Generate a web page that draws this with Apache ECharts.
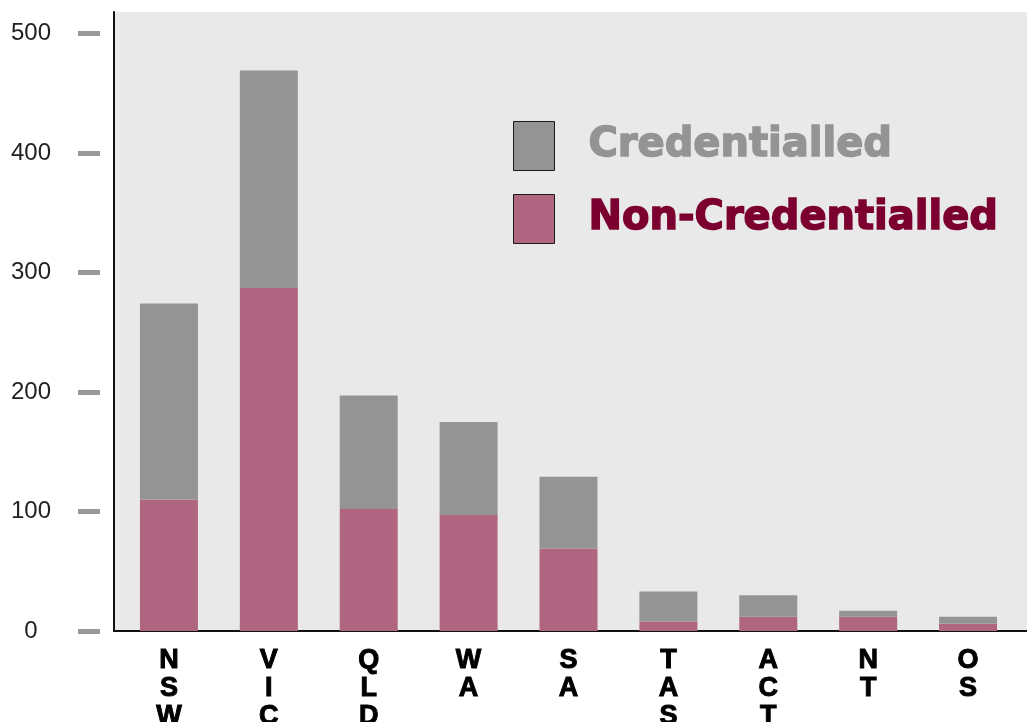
<!DOCTYPE html>
<html><head><meta charset="utf-8">
<script src="https://cdn.jsdelivr.net/npm/echarts@6/dist/echarts.min.js"></script>
<style>html,body{margin:0;padding:0;background:#fff}#c{width:1027px;height:722px}</style>
</head><body><div id="c"></div>
<script>
const categories = ['NSW','VIC','QLD','WA','SA','TAS','ACT','NT','OS'];
const nonCredentialled = [110, 287, 102, 97, 69, 8, 12, 12, 6];
const credentialled = [164, 182, 95, 78, 60, 25, 18, 5, 6];
const yTicks = [0, 100, 200, 300, 400, 500];
const yMax = 518;

const chart = echarts.init(document.getElementById('c'));
chart.setOption({
  animation: false,
  backgroundColor: '#ffffff',
  grid: [
    {left: 114, right: 0, top: 12, bottom: 91, show: true, backgroundColor: '#e9e9e9', borderWidth: 0, outerBoundsMode: 'none', containLabel: false},
    {left: 119, right: 9, top: 12, bottom: 91, show: false, outerBoundsMode: 'none', containLabel: false}
  ],
  legend: {
    orient: 'vertical', left: 513, top: 121, padding: 0,
    itemWidth: 41, itemHeight: 49, itemGap: 23,
    icon: 'rect',
    itemStyle: {borderColor: '#1a1a1a', borderWidth: 1},
    textStyle: {fontFamily: 'DejaVu Sans', fontWeight: 'bold', fontSize: 40, padding: [4, 0, 0, 29]},
    data: [
      {name: 'Credentialled', textStyle: {color: '#949494', textBorderColor: '#949494', textBorderWidth: 1.5}},
      {name: 'Non-Credentialled', textStyle: {color: '#7b002f', textBorderColor: '#7b002f', textBorderWidth: 1.5}}
    ]
  },
  xAxis: [
    {type: 'category', gridIndex: 0, data: categories,
     axisLine: {show: true, lineStyle: {color: '#111', width: 2}},
     axisTick: {show: false}, axisLabel: {show: false}, splitLine: {show: false}},
    {type: 'category', gridIndex: 1, data: categories,
     axisLine: {show: false}, axisTick: {show: false}, splitLine: {show: false},
     axisLabel: {
       margin: 16, color: '#000', fontFamily: 'Liberation Sans', fontWeight: 'bold',
       fontSize: 27, lineHeight: 28, textBorderColor: '#000', textBorderWidth: 1,
       formatter: v => v.split('').join('\n')
     }}
  ],
  yAxis: [
    {type: 'value', gridIndex: 0, min: 0, max: yMax, offset: 14,
     axisLine: {show: false},
     axisTick: {show: true, customValues: yTicks, length: 22, lineStyle: {color: '#999', width: 5}},
     axisLabel: {show: true, customValues: yTicks, align: 'center', margin: 69,
       color: '#222', fontFamily: 'Liberation Sans', fontSize: 24, padding: [0, 0, 8, 0]},
     splitLine: {show: false}},
    {type: 'value', gridIndex: 0, min: 0, max: yMax, position: 'left',
     axisLine: {show: true, lineStyle: {color: '#111', width: 2}},
     axisTick: {show: false}, axisLabel: {show: false}, splitLine: {show: false}},
    {type: 'value', gridIndex: 1, min: 0, max: yMax,
     axisLine: {show: false}, axisTick: {show: false}, axisLabel: {show: false}, splitLine: {show: false}}
  ],
  series: [
    {name: 'Non-Credentialled', type: 'bar', stack: 'total', xAxisIndex: 1, yAxisIndex: 2,
     barWidth: 58, itemStyle: {color: '#b06680'}, data: nonCredentialled},
    {name: 'Credentialled', type: 'bar', stack: 'total', xAxisIndex: 1, yAxisIndex: 2,
     barWidth: 58, itemStyle: {color: '#949494'}, data: credentialled}
  ]
});
</script></body></html>
